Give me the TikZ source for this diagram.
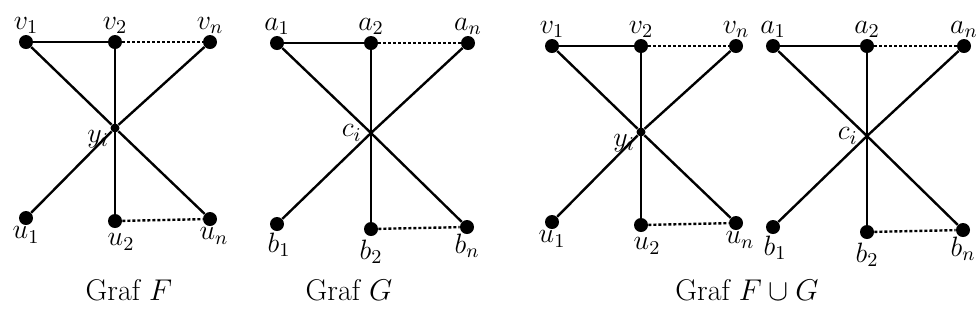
\RequirePackage{fix-cm}
\documentclass[tikz,border=0pt]{standalone}
\usepackage{amsmath}
\usepackage{tikz}
\usetikzlibrary{positioning}

% graph F: top row v, centre y_i, bottom row u
\newcommand{\grafF}{%
  \node[titik, label={[lbl]above:$v_1$}] (v1) at (26,42) {};
  \node[titik, label={[lbl]above:$v_2$}] (v2) at (115,42) {};
  \node[titik, label={[lbl]above:$v_n$}] (vn) at (210,42) {};
  \node[pusat, label={[lbl, label distance=0pt]188:$y_i$}] (yi) at (115,128) {};
  \node[titik, label={[lbl]below:$u_1$}] (u1) at (26,218) {};
  \node[titik, label={[lbl, label distance=2pt, xshift=3pt]below:$u_2$}] (u2) at (115,221) {};
  \node[titik, label={[lbl, xshift=2pt]below:$u_n$}] (un) at (210,219) {};
  \draw[sisi] (v1) -- (v2);
  \draw[putus] (v2) -- (vn);
  \draw[sisi] (v2) -- (u2);
  \draw[putus] (u2) -- (un);
  \draw[sisi] (v1) -- (yi) -- (un);
  \draw[sisi] (vn) -- (yi) -- (u1);
}

% graph G: top row a, crossing c_i, bottom row b
\newcommand{\grafG}{%
  \node[titik, label={[lbl]above:$a_1$}] (a1) at (277,43) {};
  \node[titik, label={[lbl]above:$a_2$}] (a2) at (371,43) {};
  \node[titik, label={[lbl]above:$a_n$}] (an) at (468,43) {};
  \coordinate[label={[lbl, label distance=4pt]180:$c_i$}] (ci) at (371,133);
  \node[titik, label={[lbl, xshift=1pt]below:$b_1$}] (b1) at (277,224) {};
  \node[titik, label={[lbl, label distance=1pt]below:$b_2$}] (b2) at (371,229) {};
  \node[titik, label={[lbl, label distance=-1pt]below:$b_n$}] (bn) at (467,227) {};
  \draw[sisi] (a1) -- (a2);
  \draw[putus] (a2) -- (an);
  \draw[sisi] (a2) -- (b2);
  \draw[putus] (b2) -- (bn);
  \draw[sisi] (a1) -- (ci) -- (bn);
  \draw[sisi] (an) -- (ci) -- (b1);
}

\begin{document}
\begin{tikzpicture}[
      x=0.5pt, y=-0.5pt,
      titik/.style={circle, fill=black, inner sep=0pt, minimum size=7pt},
      pusat/.style={circle, fill=black, inner sep=0pt, minimum size=4.5pt},
      sisi/.style={line width=1.2pt},
      putus/.style={line width=1.2pt, dash pattern=on 1.5pt off 1pt},
      lbl/.style={font=\fontsize{14}{16}\selectfont, inner sep=0.5pt},
      judul/.style={font=\fontsize{15}{18}\selectfont, inner sep=0pt},
    ]
    \useasboundingbox (0,0) rectangle (976,329);

    % --- the two graphs --------------------------------------------------------
    \begin{scope}[name prefix=F-]
      \grafF
    \end{scope}
    \begin{scope}[name prefix=G-]
      \grafG
    \end{scope}

    % --- their union, drawn side by side ---------------------------------------
    \begin{scope}[shift={(526,4)}, name prefix=FG-]
      \grafF
    \end{scope}
    \begin{scope}[shift={(496,3)}, name prefix=GF-]
      \grafG
    \end{scope}

    % --- captions --------------------------------------------------------------
    \node[judul] (capF) at (129,290) {Graf $F$};
    \node[judul] (capG) at (349,290) {Graf $G$};
    \node[judul] (capFG) at (747,290) {Graf $F \cup G$};
  \end{tikzpicture}
\end{document}
